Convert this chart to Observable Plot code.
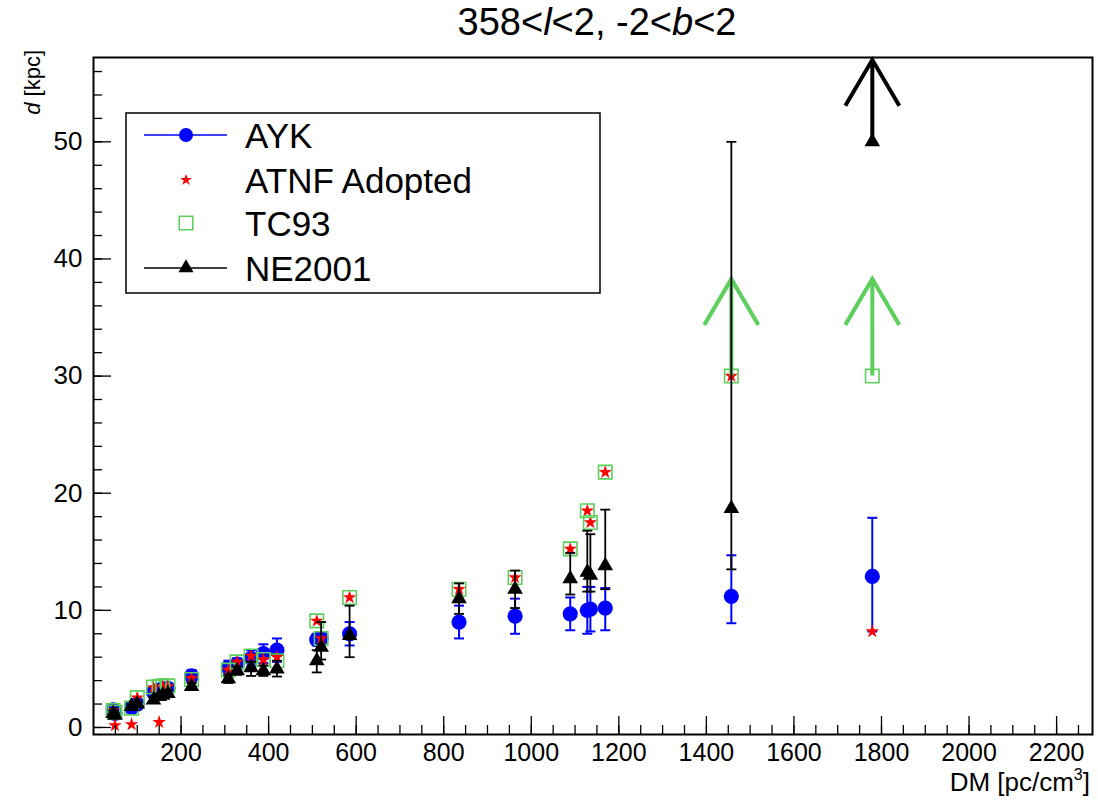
<!DOCTYPE html>
<html><head><meta charset="utf-8">
<script src="https://cdn.jsdelivr.net/npm/d3@7"></script>
<script src="https://cdn.jsdelivr.net/npm/@observablehq/plot@0.6"></script>
<style>
body{margin:0;background:#fff;}
#wrap{position:relative;width:1098px;height:800px;font-family:"Liberation Sans",Helvetica,Arial,sans-serif;}
#overlay{position:absolute;left:0;top:0;pointer-events:none;}
</style></head><body><div id="wrap"></div>
<script>
// ---- data ----
const dm      = [45, 49, 87, 100, 137, 150, 158, 170, 224, 308, 328, 360, 388, 419, 510, 520, 585, 835, 963, 1089, 1128, 1135, 1169, 1457, 1779];
const aykD    = [1.5, 1.2, 1.7, 2.0, 3.0, 3.2, 3.3, 3.35, 4.4, 5.1, 5.4, 5.9, 6.3, 6.6, 7.5, 7.6, 8.0, 9.0, 9.5, 9.7, 10.0, 10.1, 10.2, 11.2, 12.9];
const aykLo   = [1.2, 0.9, 1.4, 1.7, 2.7, 2.9, 3.0, 3.0, 3.9, 4.5, 4.9, 5.2, 5.5, 5.6, 7.0, 7.1, 7.0, 7.6, 8.0, 8.3, 8.0, 8.2, 8.3, 8.9, 8.2];
const aykHi   = [1.8, 1.5, 2.0, 2.3, 3.3, 3.5, 3.6, 3.7, 4.9, 5.7, 5.9, 6.6, 7.1, 7.6, 8.0, 8.1, 9.0, 10.4, 11.0, 11.1, 12.0, 12.0, 11.9, 14.7, 17.9];
const atnfD   = [1.45, 0.17, 0.26, 2.55, 3.4, 0.45, 3.5, 3.5, 4.2, 4.9, 5.6, 6.1, 5.8, 6.0, 9.1, 7.6, 11.1, 11.8, 12.8, 15.25, 18.5, 17.5, 21.8, 30, 8.2];
const tc93D   = [1.45, 1.3, 1.65, 2.55, 3.45, 3.5, 3.55, 3.55, 4.1, 4.9, 5.6, 6.1, 5.8, 5.7, 9.1, 7.6, 11.1, 11.8, 12.8, 15.25, 18.5, 17.5, 21.8, 30, 30];
const neD     = [1.2, 1.05, 1.8, 2.0, 2.35, 2.65, 2.75, 2.9, 3.5, 4.15, 4.85, 5.1, 4.85, 5.0, 5.7, 6.85, 7.85, 11.0, 11.8, 12.7, 13.25, 13.0, 13.8, 18.7, 50];
const neLo    = [1.0, 0.9, 1.6, 1.8, 2.1, 2.4, 2.5, 2.6, 3.2, 3.8, 4.5, 4.4, 4.4, 4.35, 4.7, 5.8, 6.0, 9.7, 10.2, 11.35, 11.6, 11.6, 11.8, 13.5, null];
const neHi    = [1.45, 1.2, 2.0, 2.2, 2.6, 2.9, 3.0, 3.2, 3.8, 4.5, 5.2, 5.6, 5.3, 5.7, 6.6, 9.0, 10.4, 12.3, 13.4, 14.9, 16.8, 16.5, 18.6, 50, null];
// lower limits drawn as arrows: start value and arrow tip
const tcLimDM   = [1457, 1779];
const tcLimFrom = [30, 30];
const tcLimTip  = [38.3, 38.3];
const neLimDM   = [1779];
const neLimFrom = [50];
const neLimTip  = [57.0];

const xMajor = [200, 400, 600, 800, 1000, 1200, 1400, 1600, 1800, 2000, 2200];
const yMajor = [0, 10, 20, 30, 40, 50];
const xMinor = d3.range(50, 2281, 50);
const yMinor = d3.range(0, 57.1, 2);

const series = ["AYK", "ATNF Adopted", "TC93", "NE2001"];

// ---- styles ----
const BLUE = "#0000ff", RED = "#ff0000", GREEN = "#5ccf5c", BLACK = "#000000";

const rows = dm.map((x, i) => ({dm: x, ayk: aykD[i], aykLo: aykLo[i], aykHi: aykHi[i],
  atnf: atnfD[i], tc93: tc93D[i], ne: neD[i], neLo: neLo[i], neHi: neHi[i]}));
const tcLim = tcLimDM.map((x, i) => ({dm: x, from: tcLimFrom[i], tip: tcLimTip[i]}));
const neLim = neLimDM.map((x, i) => ({dm: x, from: neLimFrom[i], tip: neLimTip[i]}));

const cap = {draw(ctx) { ctx.moveTo(-5, 0); ctx.lineTo(5, 0); }};
const chevron = {draw(ctx) { ctx.moveTo(-27, 46); ctx.lineTo(0, 0); ctx.lineTo(27, 46); }};

const font = "Liberation Sans, Helvetica, Arial, sans-serif";

const plot = Plot.plot({
  width: 1098, height: 800,
  marginLeft: 93, marginRight: 6, marginTop: 57, marginBottom: 66,
  style: {fontFamily: font, background: "white", overflow: "visible"},
  x: {domain: [0, 2282]},
  y: {domain: [-0.6, 57.2]},
  marks: [
    // AYK
    Plot.ruleX(rows, {x: "dm", y1: "aykLo", y2: "aykHi", stroke: BLUE, strokeWidth: 2}),
    Plot.dot(rows, {x: "dm", y: "aykLo", symbol: cap, fill: "none", stroke: BLUE, strokeWidth: 2}),
    Plot.dot(rows, {x: "dm", y: "aykHi", symbol: cap, fill: "none", stroke: BLUE, strokeWidth: 2}),
    Plot.dot(rows, {x: "dm", y: "ayk", r: 7.6, fill: BLUE, stroke: "none"}),
    // ATNF adopted
    Plot.dot(rows, {x: "dm", y: "atnf", symbol: "star", r: 4.3, fill: RED, stroke: "none"}),
    // TC93
    Plot.dot(rows, {x: "dm", y: "tc93", symbol: "square", r: 7.6, fill: "none", stroke: GREEN, strokeWidth: 1.6}),
    Plot.ruleX(tcLim, {x: "dm", y1: "from", y2: "tip", stroke: GREEN, strokeWidth: 4}),
    Plot.dot(tcLim, {x: "dm", y: "tip", symbol: chevron, fill: "none", stroke: GREEN, strokeWidth: 4}),
    // NE2001
    Plot.ruleX(rows, {x: "dm", y1: "neLo", y2: "neHi", stroke: BLACK, strokeWidth: 1.8}),
    Plot.dot(rows, {x: "dm", y: "neLo", symbol: cap, fill: "none", stroke: BLACK, strokeWidth: 1.8}),
    Plot.dot(rows, {x: "dm", y: "neHi", symbol: cap, fill: "none", stroke: BLACK, strokeWidth: 1.8}),
    Plot.dot(rows, {x: "dm", y: "ne", symbol: "triangle", r: 5.8, fill: BLACK, stroke: "none"}),
    Plot.ruleX(neLim, {x: "dm", y1: "from", y2: "tip", stroke: BLACK, strokeWidth: 4}),
    Plot.dot(neLim, {x: "dm", y: "tip", symbol: chevron, fill: "none", stroke: BLACK, strokeWidth: 4}),
    // axes: inward ticks
    Plot.axisY(yMajor, {anchor: "left", tickSize: 18, dx: 18, tickFormat: () => "", label: null, strokeWidth: 1.3}),
    Plot.axisY(yMinor, {anchor: "left", tickSize: 9, dx: 9, tickFormat: () => "", label: null, strokeWidth: 1.3}),
    Plot.axisY(yMajor, {anchor: "left", tickSize: 0, tickPadding: 11, fontSize: 26, label: null, tickFormat: d => String(d)}),
    Plot.axisX(xMajor, {anchor: "bottom", tickSize: 18, dy: -18, tickFormat: () => "", label: null, strokeWidth: 1.3}),
    Plot.axisX(xMinor, {anchor: "bottom", tickSize: 9, dy: -9, tickFormat: () => "", label: null, strokeWidth: 1.3}),
    Plot.axisX(xMajor, {anchor: "bottom", tickSize: 0, tickPadding: 9, fontSize: 25, label: null, tickFormat: d => String(d)}),
    Plot.frame({stroke: BLACK, strokeWidth: 2})
  ]
});

const wrap = document.getElementById("wrap");
wrap.appendChild(plot);

// ---- overlay: title, axis titles, legend ----
const ov = d3.select(wrap).append("svg").attr("id", "overlay")
  .attr("width", 1098).attr("height", 800).style("font-family", font);

const title = ov.append("text").attr("x", 597).attr("y", 35).attr("text-anchor", "middle")
  .attr("font-size", 38).attr("fill", "black");
title.append("tspan").text("358<");
title.append("tspan").attr("font-style", "italic").text("l");
title.append("tspan").text("<2, -2<");
title.append("tspan").attr("font-style", "italic").text("b");
title.append("tspan").text("<2");

const ylab = ov.append("text").attr("transform", "translate(40,50) rotate(-90)")
  .attr("text-anchor", "end").attr("font-size", 22).attr("fill", "black");
ylab.append("tspan").attr("font-style", "italic").text("d");
ylab.append("tspan").text(" [kpc]");

const xlab = ov.append("text").attr("x", 1090).attr("y", 791).attr("text-anchor", "end")
  .attr("font-size", 26).attr("fill", "black");
xlab.append("tspan").text("DM [pc/cm");
xlab.append("tspan").attr("font-size", 16).attr("dy", -11).text("3");
xlab.append("tspan").attr("dy", 11).text("]");

// legend
const lg = ov.append("g");
lg.append("rect").attr("x", 126).attr("y", 113).attr("width", 474).attr("height", 180)
  .attr("fill", "white").attr("stroke", "black").attr("stroke-width", 1.5);
const rowsY = [135, 180, 223, 268];
const mx = 186;
// AYK
lg.append("line").attr("x1", 144).attr("x2", 227).attr("y1", rowsY[0]).attr("y2", rowsY[0]).attr("stroke", BLUE).attr("stroke-width", 1.5);
lg.append("circle").attr("cx", mx).attr("cy", rowsY[0]).attr("r", 7).attr("fill", BLUE);
// ATNF
lg.append("path").attr("transform", `translate(${mx},${rowsY[1]})`)
  .attr("d", d3.symbol(d3.symbolStar, Math.PI * 3.7 * 3.7)()).attr("fill", RED);
// TC93
lg.append("path").attr("transform", `translate(${mx},${rowsY[2]})`)
  .attr("d", d3.symbol(d3.symbolSquare, Math.PI * 7.6 * 7.6)()).attr("fill", "none").attr("stroke", GREEN).attr("stroke-width", 1.6);
// NE2001
lg.append("line").attr("x1", 144).attr("x2", 227).attr("y1", rowsY[3]).attr("y2", rowsY[3]).attr("stroke", BLACK).attr("stroke-width", 1.5);
lg.append("path").attr("transform", `translate(${mx},${rowsY[3]})`)
  .attr("d", d3.symbol(d3.symbolTriangle, Math.PI * 5.6 * 5.6)()).attr("fill", BLACK);
series.forEach((s, i) => {
  lg.append("text").attr("x", 245).attr("y", rowsY[i]).attr("dy", "0.36em")
    .attr("font-size", 35).attr("fill", "black").text(s);
});
</script>
</body></html>
